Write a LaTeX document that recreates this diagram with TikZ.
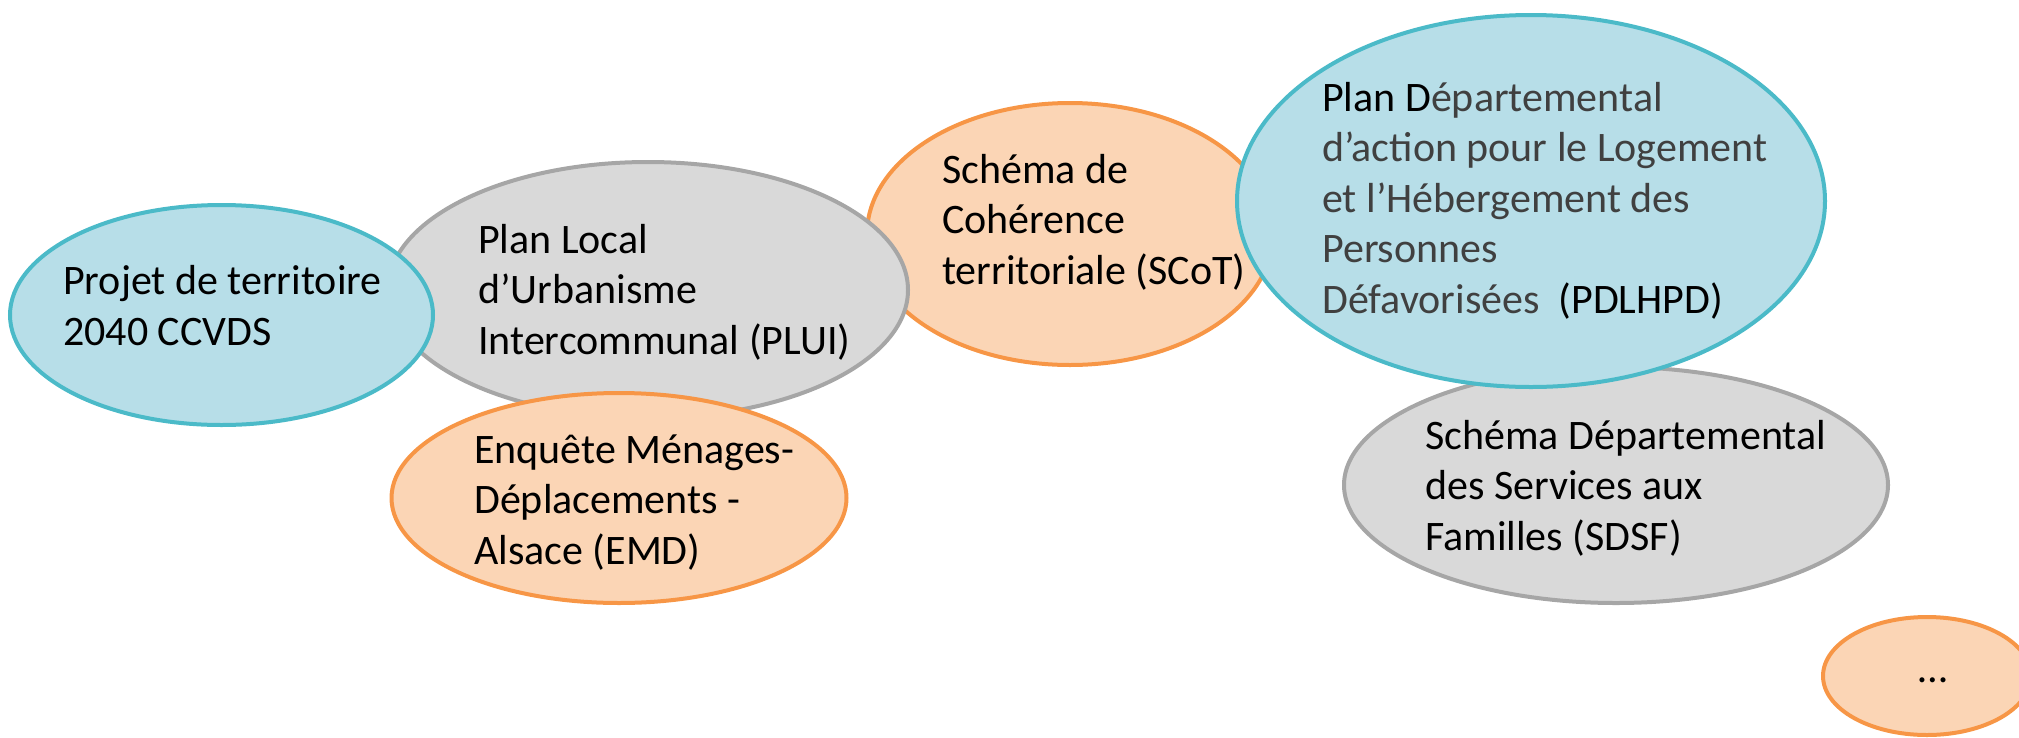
\documentclass[tikz,border=0pt]{standalone}
\usepackage{fontspec}
\setmainfont{Carlito}
\usetikzlibrary{shapes.geometric}

\definecolor{aquafill}{HTML}{B7DEE8}
\definecolor{aqualine}{HTML}{4BBAC8}
\definecolor{peachfill}{HTML}{FBD5B5}
\definecolor{peachline}{HTML}{F79646}
\definecolor{greyfill}{HTML}{D9D9D9}
\definecolor{greyline}{HTML}{A6A6A6}
\definecolor{darktext}{HTML}{404040}

\begin{document}
\begin{tikzpicture}[
  x=1pt, y=-1pt,
  bubble/.style = {ellipse, draw, line width=4pt, inner sep=0pt},
  aquabubble/.style = {bubble, fill=aquafill, draw=aqualine},
  peachbubble/.style = {bubble, fill=peachfill, draw=peachline},
  greybubble/.style = {bubble, fill=greyfill, draw=greyline},
  % placed at the baseline of the last line
  label/.style = {anchor=base west, align=left, inner sep=0pt, font=\fontsize{42}{50.5}\selectfont}
]
  \useasboundingbox (0,0) rectangle (2019,737);

  \node[peachbubble, minimum width=406pt, minimum height=262pt] (scot) at (1070,234) {};
  \node[label] (scot-txt) at (942,284) {Schéma de\\Cohérence\\territoriale (SCoT)};

  \node[greybubble, minimum width=520pt, minimum height=256pt] (plui) at (648,290) {};
  \node[label] (plui-txt) at (478,354) {Plan Local\\d’Urbanisme\\Intercommunal (PLUI)};

  \node[aquabubble, minimum width=423pt, minimum height=220pt] (projet) at (221.5,315) {};
  \node[label] (projet-txt) at (63,345) {Projet de territoire\\2040 CCVDS};

  \node[peachbubble, minimum width=455pt, minimum height=210pt] (emd) at (619,498) {};
  \node[label] (emd-txt) at (474,564) {Enquête Ménages-\\Déplacements -\\Alsace (EMD)};

  \node[greybubble, minimum width=544pt, minimum height=236pt] (sdsf) at (1616,485) {};
  \node[label] (sdsf-txt) at (1425,550) {Schéma Départemental\\des Services aux\\Familles (SDSF)};

  \node[aquabubble, minimum width=588pt, minimum height=372pt] (pdlhpd) at (1531,201) {};
  \node[label, text=darktext] (pdlhpd-txt) at (1322,313)
    {{\color{black}Plan D}épartemental\\d’action pour le Logement\\et l’Hébergement des\\Personnes\\Défavorisées\ \ {\color{black}(PDLHPD)}};

  \node[peachbubble, minimum width=208pt, minimum height=118pt] (more) at (1927,676) {};
  % the last one runs past the right edge
  \node[label, anchor=base] (more-txt) at (1933,682) {…};
\end{tikzpicture}
\end{document}
